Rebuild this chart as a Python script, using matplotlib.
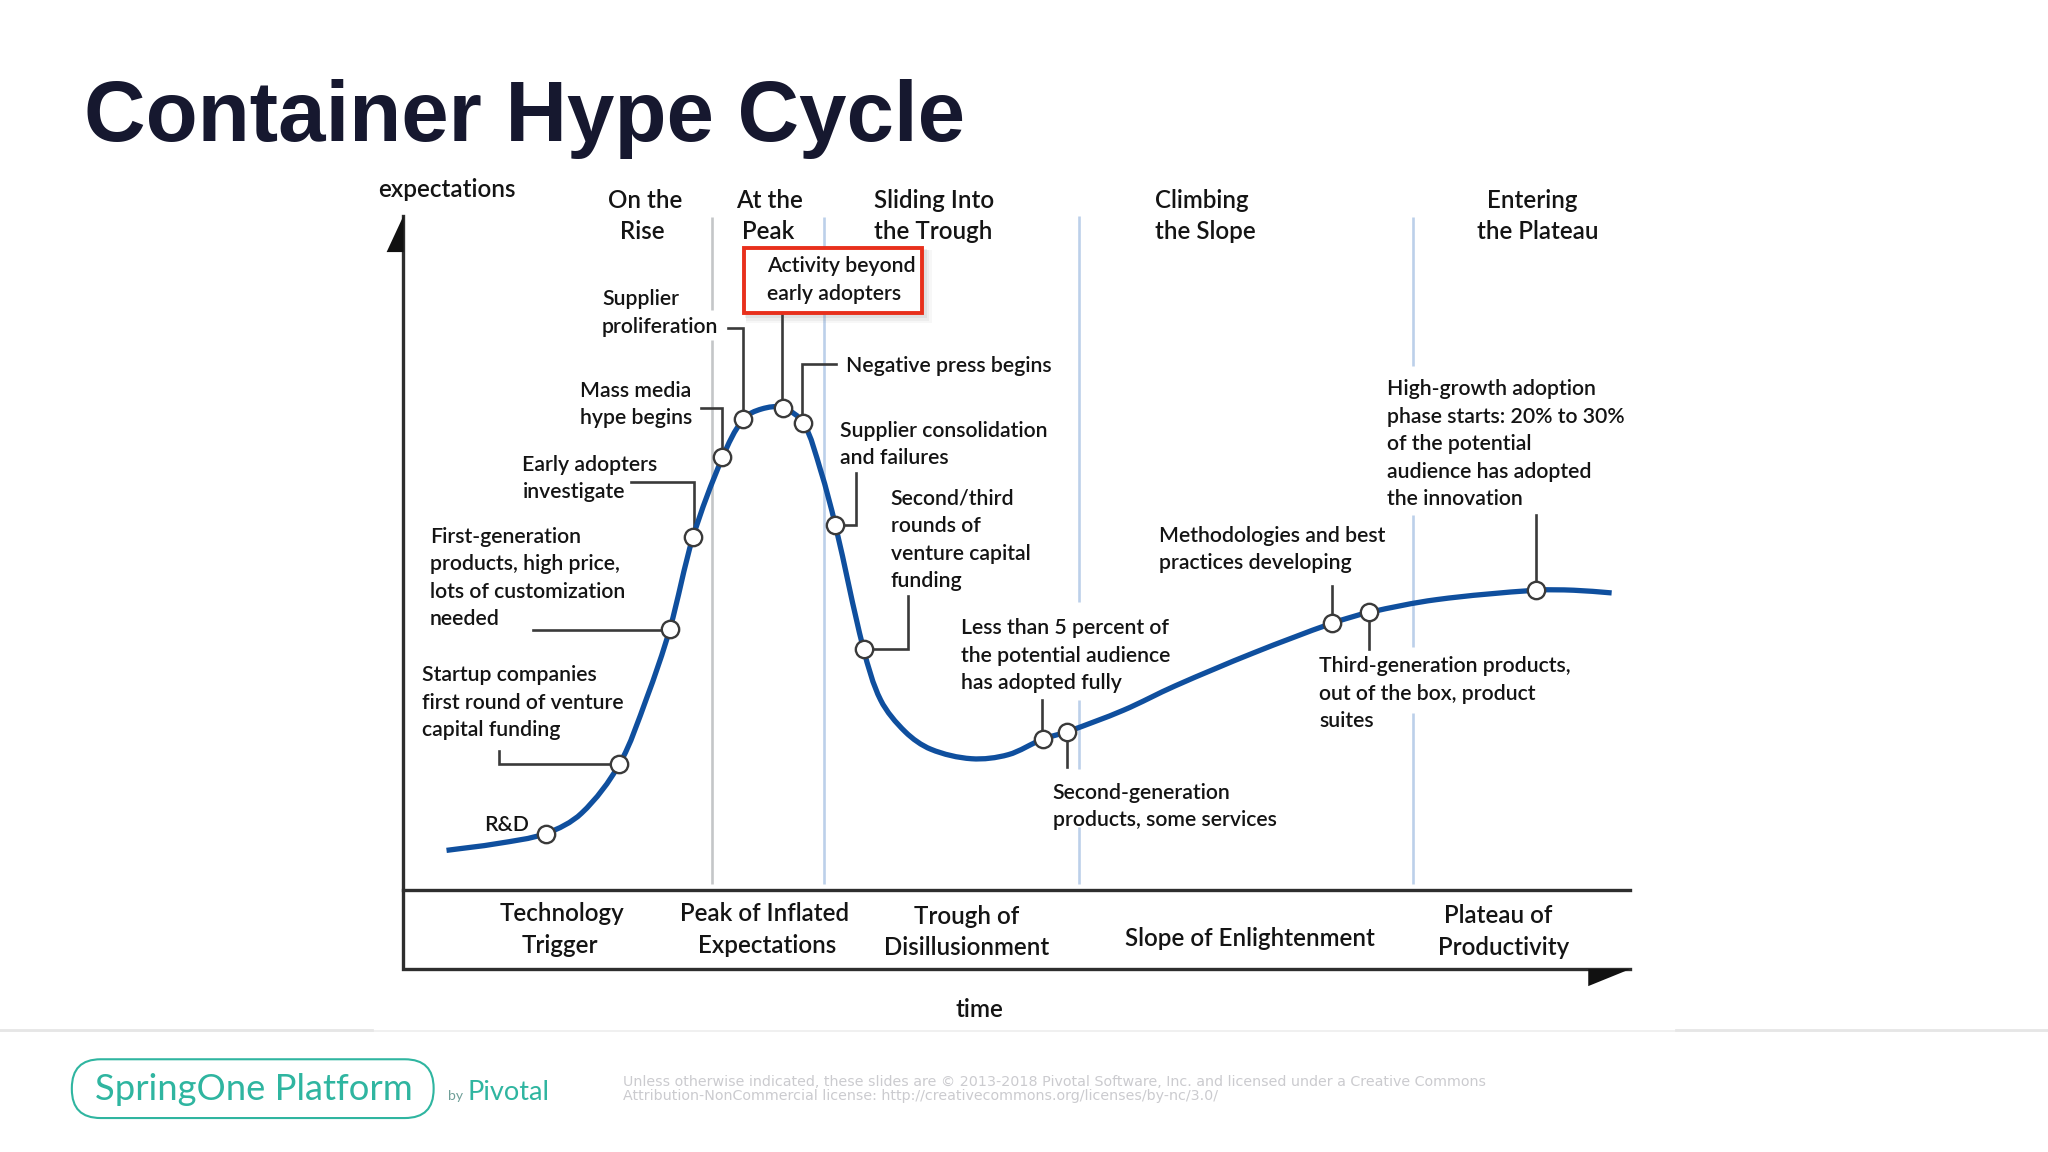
import numpy as np
import matplotlib
matplotlib.use("Agg")
import matplotlib.pyplot as plt
from matplotlib.path import Path
from matplotlib.patches import PathPatch, Rectangle, FancyBboxPatch, Polygon

# ---- data (time, expectations in percent of the axes)
curve_time = [3.5, 7.6, 11.6, 14.5, 17.6, 19.8, 21.7, 23.6, 26.0, 27.7, 29.2, 30.9, 32.6, 34.0, 35.2,
              37.5, 38.9, 40.9, 43.0, 46.3, 49.3, 52.1, 54.1, 58.7, 62.9, 69.3, 75.7, 78.7, 84.2, 92.3, 95.4, 98.5]
curve_expect = [5.8, 6.8, 8.3, 11.3, 18.6, 28.3, 38.6, 52.3, 64.1, 69.8, 71.3, 71.5, 69.2, 62.2, 54.1,
                35.7, 28.1, 23.4, 20.8, 19.4, 20.0, 22.3, 23.4, 26.6, 30.2, 35.1, 39.5, 41.1, 43.0, 44.4, 44.4, 44.0]
milestone_time = [11.6, 17.6, 21.7, 23.6, 26.0, 27.7, 30.9, 32.6, 35.2, 37.5, 52.1, 54.1, 75.7, 78.7, 92.3]
milestone_expect = [8.3, 18.6, 38.6, 52.3, 64.1, 69.8, 71.5, 69.2, 54.1, 35.7, 22.3, 23.4, 39.5, 41.1, 44.4]

phase_headers = [("On the", 494, 159, "center"), ("Rise", 492, 183, "center"),
                 ("At the", 589, 159, "center"), ("Peak", 588, 183, "center"),
                 ("Sliding Into", 669, 159, "left"), ("the Trough", 669, 183, "left"),
                 ("Climbing", 884, 159, "left"), ("the Slope", 884, 183, "left"),
                 ("Entering", 1173, 159, "center"), ("the Plateau", 1177, 183, "center")]
phase_names = [("Technology", 430, 705), ("Trigger", 429, 729),
               ("Peak of Inflated", 585, 705), ("Expectations", 587, 729),
               ("Trough of", 740, 707), ("Disillusionment", 740, 731),
               ("Slope of Enlightenment", 957, 724),
               ("Plateau of", 1147, 706), ("Productivity", 1151, 731)]
notes = [(587, 208, ["Activity beyond", "early adopters"]),
         (461, 233, ["Supplier", "proliferation"]),
         (444, 303, ["Mass media", "hype begins"]),
         (400, 360, ["Early adopters", "investigate"]),
         (329, 415, ["First-generation", "products, high price,", "lots of customization", "needed"]),
         (323, 521, ["Startup companies", "first round of venture", "capital funding"]),
         (371, 636, ["R&D"]),
         (648, 284, ["Negative press begins"]),
         (643, 334, ["Supplier consolidation", "and failures"]),
         (682, 386, ["Second/third", "rounds of", "venture capital", "funding"]),
         (736, 485, ["Less than 5 percent of", "the potential audience", "has adopted fully"]),
         (806, 611, ["Second-generation", "products, some services"]),
         (887, 414, ["Methodologies and best", "practices developing"]),
         (1010, 514, ["Third-generation products,", "out of the box, product", "suites"]),
         (1062, 302, ["High-growth adoption", "phase starts: 20% to 30%", "of the potential",
                      "audience has adopted", "the innovation"])]

connectors = [[(382, 575), (382, 585), (474, 585)], [(408, 482), (513, 482)],
              [(483, 369), (531, 369), (531, 411)], [(537, 312), (553, 312), (553, 350)],
              [(557, 251), (569, 251), (569, 321)], [(599, 240), (599, 312)],
              [(640, 279), (614, 279), (614, 324)], [(655, 362), (655, 402), (640, 402)],
              [(695, 456), (695, 497), (661, 497)], [(798, 536), (798, 565)],
              [(817, 560), (817, 587)], [(1020, 449), (1020, 477)],
              [(1048, 469), (1048, 497)], [(1176, 394), (1176, 452)]]
dividers = [(545, "#c4c6c8", [(166, 237), (260, 677)]),
            (631, "#bcd0ea", [(166, 677)]),
            (826, "#bcd0ea", [(165, 461), (536, 589), (633, 677)]),
            (1082, "#bcd0ea", [(166, 280), (394, 495), (546, 677)])]

BODY = ["Lato", "DejaVu Sans"]
INK = "#141414"
W, H = 1568, 882

fig = plt.figure(figsize=(20.48, 11.52), dpi=100, facecolor="white")
ax = fig.add_axes([0, 0, 1, 1])
ax.set_xlim(0, W); ax.set_ylim(H, 0); ax.axis("off")

# footer rule
ax.plot([0, W], [789, 789], color="#f0f0f0", lw=1.4)
ax.plot([0, 285], [788.6, 788.6], color="#e6e6e6", lw=2)
ax.plot([1283, W], [788.6, 788.6], color="#e6e6e6", lw=2)

# dividers
for x, col, spans in dividers:
    for a, b in spans:
        ax.plot([x, x], [a, b], color=col, lw=1.9, solid_capstyle="butt", zorder=1)

# frame
frame = "#2e2e2e"
ax.plot([308.5, 308.5, 1248], [165, 742, 742], color=frame, lw=2.4, solid_joinstyle="miter", zorder=2)
ax.plot([308.5, 1248], [681.5, 681.5], color=frame, lw=2.4, zorder=2)
ax.add_patch(Polygon([(309, 165), (296, 193), (309, 193)], closed=True, fc="#111111", ec="none", zorder=3))
ax.add_patch(Polygon([(1216, 742), (1248, 742), (1216, 755)], closed=True, fc="#111111", ec="none", zorder=3))

# red box with shadow
for i, a in enumerate([0.05, 0.07, 0.1]):
    o = 5 - i * 1.5
    ax.add_patch(Rectangle((570 + o * .3, 190 + o * .3), 137 + o, 51 + o, fc="#707070", ec="none", alpha=a, zorder=3))
ax.add_patch(Rectangle((570, 190), 136, 50, fc="white", ec="#e8301c", lw=2.8, zorder=4))

# connectors
for pts in connectors:
    xs, ys = zip(*pts)
    ax.plot(xs, ys, color="#3a3a3a", lw=1.9, solid_joinstyle="miter", zorder=3)

# text
for s, x, y, ha in phase_headers:
    ax.text(x, y, s, ha=ha, va="baseline", family=BODY, fontsize=17.4, weight="semibold", color=INK, zorder=6)
for s, x, y in phase_names:
    ax.text(x, y + 0.5, s, ha="center", va="baseline", family=BODY, fontsize=17.4, weight="semibold", color=INK, zorder=6)
ax.text(289.5, 151, "expectations", family=BODY, fontsize=17.5, weight="semibold", color=INK, va="baseline", zorder=6)
ax.text(750, 779, "time", family=BODY, fontsize=17.5, weight="semibold", color=INK, ha="center", va="baseline", zorder=6)
for x, y, lines in notes:
    for i, s in enumerate(lines):
        ax.text(x, y + 21 * i + 0.6, s, family=BODY, fontsize=15.3, weight="semibold", color=INK, va="baseline", zorder=6)

# title
ax.text(64, 108, "Container Hype Cycle", family="Liberation Sans", weight="bold", fontsize=61.4,
        color="#16182f", va="baseline")

# footer
ax.add_patch(FancyBboxPatch((55, 811), 277, 45, boxstyle="round,pad=0,rounding_size=22",
                            fc="white", ec="#2fb5a0", lw=1.5))
ax.text(73, 842, "SpringOne Platform", family="Lato", fontsize=26.2, color="#2fb5a0", va="baseline")
ax.text(343, 842, "by", family="Lato", fontsize=10, color="#6f9f98", va="baseline")
ax.text(358, 842, "Pivotal", family="Lato", fontsize=19.5, color="#2fb5a0", va="baseline")
for y, s in [(831.5, "Unless otherwise indicated, these slides are © 2013-2018 Pivotal Software, Inc. and licensed under a Creative Commons"),
             (842.5, "Attribution-NonCommercial license: http://creativecommons.org/licenses/by-nc/3.0/")]:
    ax.text(477, y, s, family="DejaVu Sans", fontsize=10.25, color="#cbcbcf", va="baseline")

# chart scale sits over the frame: 0-100 % of time and expectations
chart = fig.add_axes([309 / W, 1 - 681 / H, (1248 - 309) / W, (681 - 165) / H])
chart.set_xlim(0, 100); chart.set_ylim(0, 100); chart.axis("off"); chart.patch.set_alpha(0)

# smooth Bezier path through the read points, tangents weighted by on-screen chord length
P = np.column_stack([curve_time, curve_expect])
screen = P * [939 / 100, 516 / 100]
d = np.hypot(*np.diff(screen, axis=0).T)
m = np.zeros_like(P)
m[0] = (P[1] - P[0]) / d[0]
m[-1] = (P[-1] - P[-2]) / d[-1]
for i in range(1, len(P) - 1):
    m[i] = (P[i + 1] - P[i - 1]) / (d[i - 1] + d[i])
verts = [P[0]]; codes = [Path.MOVETO]
for i in range(len(P) - 1):
    verts += [P[i] + m[i] * d[i] / 3, P[i + 1] - m[i + 1] * d[i] / 3, P[i + 1]]
    codes += [Path.CURVE4] * 3
chart.add_patch(PathPatch(Path(verts, codes), fc="none", ec="#0f4f9e", lw=3.8, capstyle="butt", zorder=2))
chart.plot(milestone_time, milestone_expect, "o", ms=12.5, mfc="white", mec="#3a3a3a", mew=1.7, zorder=3, clip_on=False)

fig.savefig("out.png", dpi=100)
